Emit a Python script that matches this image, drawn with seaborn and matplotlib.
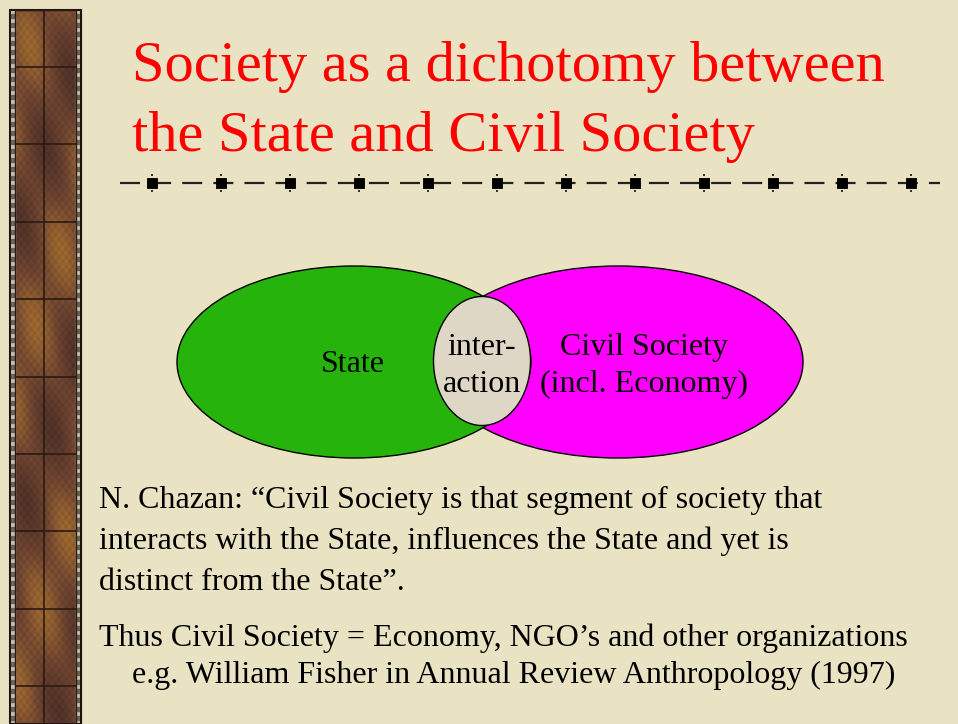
import numpy as np
import matplotlib
matplotlib.use("Agg")
import matplotlib.pyplot as plt
from matplotlib.patches import Ellipse, Rectangle
from matplotlib.colors import LinearSegmentedColormap
import seaborn as sns

# slide text
title_lines = ["Society as a dichotomy between", "the State and Civil Society"]
circle_labels = ["State", "inter-\naction", "Civil Society\n(incl. Economy)"]
circle_colors = ["#26B40C", "#DFD7C5", "#FF00FF"]
quote_lines = ["N. Chazan: \u201cCivil Society is that segment of society that",
               "interacts with the State, influences the State and yet is",
               "distinct from the State\u201d."]
thus_line = "Thus Civil Society = Economy, NGO\u2019s and other organizations"
ref_line = "e.g. William Fisher in Annual Review Anthropology (1997)"

sns.set_theme(style="white")
plt.rcParams['font.family'] = ['Liberation Serif', 'DejaVu Serif']
plt.rcParams['text.color'] = 'black'

bg = "#E9E3C3"
fig = plt.figure(figsize=(9.58, 7.24), dpi=100, facecolor=bg)
ax = fig.add_axes([0, 0, 1, 1])
ax.set_xlim(0, 958)
ax.set_ylim(724, 0)
ax.set_facecolor(bg)
ax.axis("off")

# left decorative strip
yy, xx = np.mgrid[0:714, 0:61]
tex = (np.sin(xx * 0.9) * np.cos(yy * 0.7) * 0.25
       + np.sin(yy * 0.021 + xx * 0.06) * 0.6
       + np.cos(yy * 0.047 - xx * 0.11) * 0.4)
brown = LinearSegmentedColormap.from_list("brown", ["#4A2E26", "#6E4430", "#A26C2E"])
ax.imshow(tex, cmap=brown, extent=(15, 76, 724, 10), aspect="auto", zorder=1)
for x0 in (10, 76):
    ax.add_patch(Rectangle((x0, 10), 5, 714, color="#C9C3B4", zorder=2))
    for y0 in np.arange(14, 724, 9):
        ax.add_patch(Rectangle((x0 + 1, y0), 3, 4, color="#6B6458", zorder=3))
ax.add_patch(Rectangle((10, 10), 71, 714, fill=False, ec="#1E140F", lw=1.5, zorder=4))
ax.vlines(44, 10, 724, color="#2A1A12", lw=1.2, zorder=4)
ax.hlines(67 + 77.4 * np.arange(9), 15, 76, color="#2A1A12", lw=1.2, zorder=4)
ax.add_patch(Rectangle((15, 10), 61, 714, fill=False, ec="#2A1A12", lw=1, zorder=4))

# title
for i, line in enumerate(title_lines):
    ax.text(132, 81 + 70 * i, line, color="#FF0000", fontsize=42, va="baseline", ha="left")

# divider
ax.plot([120, 940], [183, 183], color="#222222", lw=1.6, dashes=(9, 5), zorder=5)
marks = 152 + 69 * np.arange(12)
sns.scatterplot(x=marks, y=np.full(len(marks), 183), marker="s", s=60, color="black",
                edgecolor="black", ax=ax, zorder=6, legend=False)
for dy in (-8, 8):
    ax.scatter(marks, np.full(len(marks), 183 + dy), marker="s", s=3, color="#333333",
               linewidths=0, zorder=5)

# diagram
ax.add_patch(Ellipse((618, 362), 370, 192, fc=circle_colors[2], ec="black", lw=1, zorder=5))
ax.add_patch(Ellipse((354, 362), 354, 192, fc=circle_colors[0], ec="black", lw=1, zorder=6))
ax.add_patch(Ellipse((482, 361), 97, 129, fc=circle_colors[1], ec="black", lw=1, zorder=7))
ax.text(353, 364, circle_labels[0], fontsize=23, ha="center", va="center", zorder=8)
ax.text(482, 366, circle_labels[1], fontsize=23, ha="center", va="center",
        linespacing=1.4, zorder=8)
ax.text(644, 366, circle_labels[2], fontsize=23, ha="center", va="center",
        linespacing=1.4, zorder=8)

# body text
for i, line in enumerate(quote_lines):
    ax.text(99, 508 + 41 * i, line, fontsize=23, va="baseline", ha="left")
ax.text(99, 646, thus_line, fontsize=23, va="baseline", ha="left")
ax.text(132, 683, ref_line, fontsize=23, va="baseline", ha="left")

fig.savefig("out.png", dpi=100, facecolor=bg)
